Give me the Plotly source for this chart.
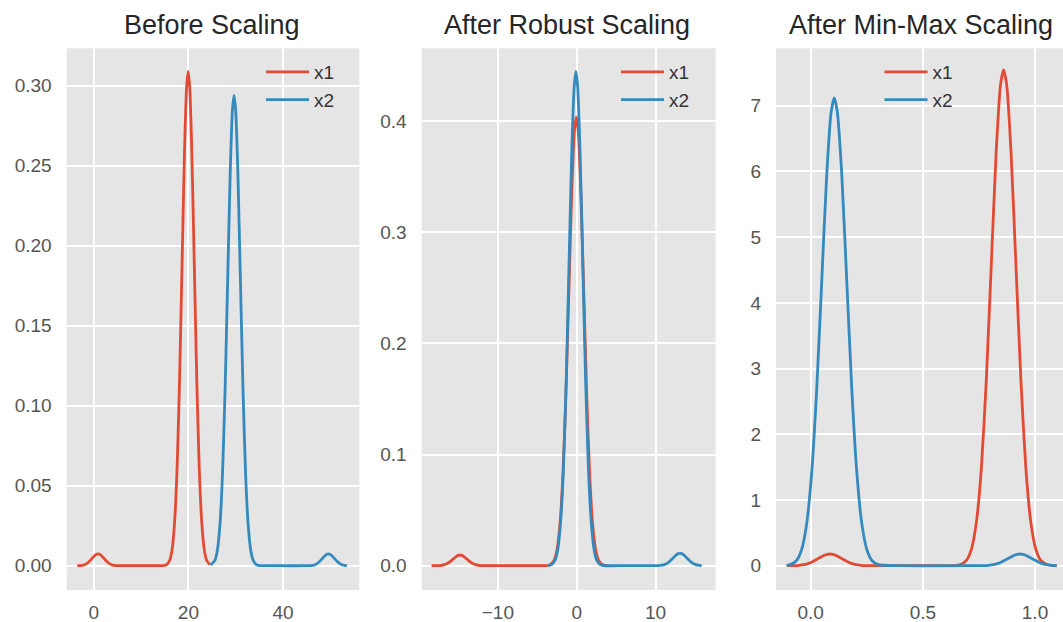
import plotly.graph_objects as go

# ---- KDE curves of x1 / x2 before scaling ----
raw_x1_x = [-3.5, -2.48, -1.96, -1.44, -0.92, -0.4, 0.12, 0.575, 0.9, 1.225, 1.68, 2.2, 2.72, 3.24, 3.76, 4.28, 5.5,
            10.0, 14.0, 14.75, 15.4, 16.05, 16.57, 17.09, 17.61, 18.13, 18.65, 19.17, 19.625, 19.95,
            20.275, 20.73, 21.25, 21.77, 22.29, 22.81, 23.33, 23.85, 24.5]
raw_x1_y = [0.0, 0.0002, 0.0006, 0.0014, 0.0027, 0.0044, 0.0061, 0.0071, 0.0073, 0.0071, 0.0061, 0.0044, 0.0027, 0.0014, 0.0006, 0.0002, 0.0,
            0.0, 0.0, 0.0001, 0.0007, 0.0034, 0.0105, 0.0275, 0.0612, 0.1160, 0.1874, 0.2581, 0.2994, 0.309,
            0.2994, 0.2581, 0.1874, 0.1160, 0.0612, 0.0275, 0.0105, 0.0034, 0.0007]
raw_x2_x = [24.7, 25.6, 26.14, 26.68, 27.22, 27.76, 28.3, 28.84, 29.31, 29.65,
            29.99, 30.46, 31.0, 31.54, 32.08, 32.62, 33.16, 33.7, 34.38, 35.05, 38.0, 45.0,
            46.22, 46.74, 47.26, 47.78, 48.3, 48.82, 49.275, 49.6, 49.925, 50.38, 50.9, 51.42, 51.94, 52.46, 52.98, 53.5]
raw_x2_y = [0.0004, 0.0033, 0.0100, 0.0261, 0.0582, 0.1103, 0.1783, 0.2456, 0.2849, 0.294,
            0.2849, 0.2456, 0.1783, 0.1103, 0.0582, 0.0261, 0.0100, 0.0033, 0.0006, 0.0001, 0.0, 0.0,
            0.0002, 0.0006, 0.0014, 0.0027, 0.0044, 0.0061, 0.0071, 0.0073, 0.0071, 0.0061, 0.0044, 0.0027, 0.0014, 0.0006, 0.0002, 0.0]

# ---- after robust scaling ----
rob_x1_x = [-18.4, -17.5, -17.14, -16.78, -16.42, -16.06, -15.7, -15.34, -15.025, -14.8,
            -14.575, -14.26, -13.9, -13.54, -13.18, -12.82, -12.46, -12.1, -10.0, -5.0,
            -3.85, -3.38, -2.9, -2.52, -2.14, -1.76, -1.38, -1.0, -0.62, -0.29, -0.05,
            0.19, 0.52, 0.9, 1.28, 1.66, 2.04, 2.42, 2.8, 3.28, 3.75, 4.0]
rob_x1_y = [0.0, 0.0001, 0.0003, 0.0009, 0.0019, 0.0036, 0.0058, 0.0080, 0.0093, 0.0096,
            0.0093, 0.0080, 0.0058, 0.0036, 0.0019, 0.0009, 0.0003, 0.0001, 0.0, 0.0,
            0.0001, 0.0009, 0.0045, 0.0137, 0.0359, 0.0800, 0.1516, 0.2450, 0.3375, 0.3915, 0.404,
            0.3915, 0.3375, 0.2450, 0.1516, 0.0800, 0.0359, 0.0137, 0.0045, 0.0009, 0.0001, 0.0]
rob_x2_x = [-3.62, -3.18, -2.74, -2.39, -2.04, -1.68, -1.33, -0.98, -0.63, -0.32, -0.1,
            0.12, 0.43, 0.78, 1.13, 1.48, 1.84, 2.19, 2.54, 2.98, 3.42, 6.0, 10.0,
            10.4, 10.76, 11.12, 11.48, 11.84, 12.2, 12.56, 12.875, 13.1,
            13.325, 13.64, 14.0, 14.36, 14.72, 15.08, 15.44, 15.85]
rob_x2_y = [0.0001, 0.0010, 0.0049, 0.0151, 0.0396, 0.0881, 0.1670, 0.2699, 0.3717, 0.4312, 0.445,
            0.4312, 0.3717, 0.2699, 0.1670, 0.0881, 0.0396, 0.0151, 0.0049, 0.0010, 0.0001, 0.0, 0.0,
            0.0001, 0.0004, 0.0010, 0.0022, 0.0042, 0.0067, 0.0093, 0.0108, 0.0111,
            0.0108, 0.0093, 0.0067, 0.0042, 0.0022, 0.0010, 0.0004, 0.0001]

# ---- after min-max scaling ----
mm_x1_x = [-0.107, -0.0995, -0.073, -0.0518, -0.0306, -0.0094, 0.0118, 0.033, 0.0542, 0.0728, 0.086,
           0.0993, 0.1178, 0.139, 0.1602, 0.1814, 0.2026, 0.2238, 0.245, 0.2715, 0.4, 0.6,
           0.64, 0.668, 0.695, 0.717, 0.739, 0.761, 0.783, 0.805, 0.827, 0.846, 0.86,
           0.874, 0.893, 0.915, 0.937, 0.959, 0.981, 1.003, 1.025, 1.053, 1.08, 1.097]
mm_x1_y = [0.0003, 0.0004, 0.0020, 0.0061, 0.0158, 0.0352, 0.0668, 0.1080, 0.1487, 0.1725, 0.178,
           0.1725, 0.1487, 0.1080, 0.0668, 0.0352, 0.0158, 0.0061, 0.0020, 0.0004, 0.0, 0.0,
           0.002, 0.017, 0.084, 0.257, 0.671, 1.493, 2.832, 4.576, 6.302, 7.311, 7.545,
           7.311, 6.302, 4.576, 2.832, 1.493, 0.671, 0.257, 0.084, 0.017, 0.002, 0.0005]
mm_x2_x = [-0.107, -0.091, -0.063, -0.0406, -0.0182, 0.0042, 0.0266, 0.049, 0.0714, 0.091, 0.105,
           0.119, 0.1386, 0.161, 0.1834, 0.2058, 0.2282, 0.2506, 0.273, 0.301, 0.4, 0.7,
           0.771, 0.7926, 0.8142, 0.8358, 0.8574, 0.879, 0.9006, 0.9195, 0.933,
           0.9465, 0.9654, 0.987, 1.0086, 1.0302, 1.0518, 1.0734, 1.097]
mm_x2_y = [0.003, 0.016, 0.079, 0.242, 0.633, 1.409, 2.672, 4.318, 5.947, 6.899, 7.12,
           6.899, 5.947, 4.318, 2.672, 1.409, 0.633, 0.242, 0.079, 0.016, 0.0, 0.0,
           0.0020, 0.0061, 0.0158, 0.0352, 0.0668, 0.1080, 0.1487, 0.1725, 0.178,
           0.1725, 0.1487, 0.1080, 0.0668, 0.0352, 0.0158, 0.0061, 0.0015]

titles = ["Before Scaling", "After Robust Scaling", "After Min-Max Scaling"]
series_names = ["x1", "x2"]

RED = "#E24A33"
BLUE = "#348ABD"
W, H = 1063, 622
FONT = "Liberation Sans, Arial, Helvetica, sans-serif"

panels = [
    (raw_x1_x, raw_x1_y, raw_x2_x, raw_x2_y),
    (rob_x1_x, rob_x1_y, rob_x2_x, rob_x2_y),
    (mm_x1_x, mm_x1_y, mm_x2_x, mm_x2_y),
]

# plot-area placement in pixels (left, right)
x_px = [(66.7, 359.3), (421.7, 715.7), (776.0, 1063.0)]
y_dom = [(H - 590.0) / H, (H - 48.3) / H]

x_ranges = [[-5.73, 56.13], [-19.66, 17.63], [-0.1547, 1.1248]]
y_ranges = [[-0.0152, 0.3234], [-0.0219, 0.4657], [-0.37, 7.875]]
x_ticks = [[0, 20, 40], [-10, 0, 10], [0.0, 0.5, 1.0]]
x_fmt = ["d", "d", ".1f"]
y_ticks = [[0.0, 0.05, 0.10, 0.15, 0.20, 0.25, 0.30], [0.0, 0.1, 0.2, 0.3, 0.4], [0, 1, 2, 3, 4, 5, 6, 7]]
y_fmt = [".2f", ".1f", "d"]
title_cx = [212.0, 567.0, 920.8]
legend_left = [261.0, 616.0, 879.5]

fig = go.Figure()
layout = dict(
    width=W, height=H,
    margin=dict(l=0, r=0, t=0, b=0),
    paper_bgcolor="white",
    plot_bgcolor="#E5E5E5",
    font=dict(family=FONT, size=19, color="#555555"),
    annotations=[],
)

for i, (ax1, ay1, ax2, ay2) in enumerate(panels):
    n = "" if i == 0 else str(i + 1)
    leg = "legend" if i == 0 else f"legend{i + 1}"
    for xs, ys, name, col in [(ax1, ay1, series_names[0], RED), (ax2, ay2, series_names[1], BLUE)]:
        fig.add_trace(go.Scatter(
            x=xs, y=ys, mode="lines", name=name,
            line=dict(color=col, width=2.8, shape="spline", smoothing=0.6),
            xaxis=f"x{n}", yaxis=f"y{n}", legend=leg, legendgroup=f"{name}{i}",
        ))
    x0, x1 = x_px[i]
    layout[f"xaxis{n}"] = dict(
        domain=[x0 / W, x1 / W], anchor=f"y{n}", range=x_ranges[i],
        tickvals=x_ticks[i], tickformat=x_fmt[i],
        showgrid=True, gridcolor="white", gridwidth=1.8,
        zeroline=False, showline=False, ticks="", ticklabelstandoff=9,
    )
    layout[f"yaxis{n}"] = dict(
        domain=y_dom, anchor=f"x{n}", range=y_ranges[i],
        tickvals=y_ticks[i], tickformat=y_fmt[i],
        showgrid=True, gridcolor="white", gridwidth=1.8,
        zeroline=False, showline=False, ticks="", ticklabelstandoff=14,
    )
    layout[leg] = dict(
        x=legend_left[i] / W, xanchor="left",
        y=1 - 53.0 / H, yanchor="top",
        bgcolor="rgba(0,0,0,0)", borderwidth=0,
        font=dict(family=FONT, size=19, color="#333333"),
        tracegroupgap=0, itemwidth=43,
    )
    layout["annotations"].append(dict(
        text=titles[i], xref="paper", yref="paper",
        x=title_cx[i] / W, y=1 - 25.0 / H, xanchor="center", yanchor="middle",
        showarrow=False, font=dict(family=FONT, size=27, color="#262626"),
    ))

fig.update_layout(**layout)
fig.write_html("out.html")
